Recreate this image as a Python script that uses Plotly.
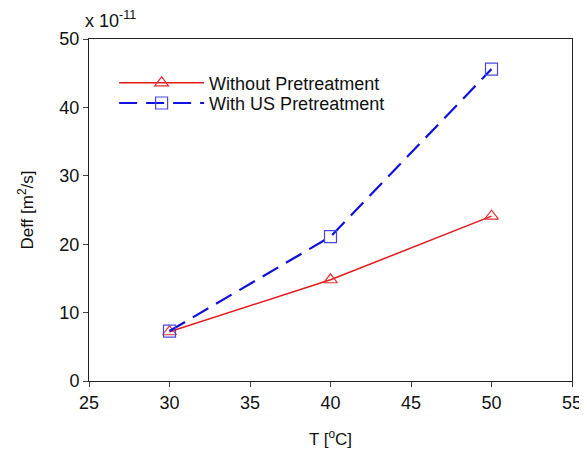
import plotly.graph_objects as go

temps = [30, 40, 50]
without_pre = [7.2, 14.8, 24.1]
with_us = [7.3, 21.1, 45.6]
x_ticks = [25, 30, 35, 40, 45, 50, 55]
y_ticks = [0, 10, 20, 30, 40, 50]

fig = go.Figure()
fig.add_trace(go.Scatter(
    x=temps, y=without_pre, name="Without Pretreatment",
    mode="lines+markers", legend="legend",
    line=dict(color="#e31a1c", width=1.5),
    marker=dict(symbol="triangle-up-open", size=12, color="#e03030", line=dict(width=1.2)),
))
fig.add_trace(go.Scatter(
    x=temps, y=with_us, name="With US Pretreatment",
    mode="lines+markers", legend="legend2",
    line=dict(color="#1010e0", width=2.2, dash="18px,9px"),
    marker=dict(symbol="square-open", size=12, color="#4848e0", line=dict(width=1.2)),
))

leg_common = dict(xanchor="left", yanchor="middle", bgcolor="rgba(0,0,0,0)",
                  font=dict(size=18), itemwidth=85)

fig.update_layout(
    width=579, height=444,
    margin=dict(l=81, r=15, t=31, b=71),
    paper_bgcolor="white", plot_bgcolor="white",
    font=dict(family="Liberation Sans, Arial, sans-serif", size=18, color="#111"),
    showlegend=True,
    legend=dict(x=0.052, y=0.871, **leg_common),
    legend2=dict(x=0.052, y=0.812, **leg_common),
    xaxis=dict(range=[25, 55], tickvals=x_ticks, ticks="outside", ticklen=5,
               showline=True, linecolor="#222", linewidth=1, mirror=True,
               showgrid=False, zeroline=False, automargin=False,
               tickfont=dict(size=18),
               title=dict(text="T [<sup>o</sup>C]", font=dict(size=17), standoff=21)),
    yaxis=dict(range=[0, 50], tickvals=y_ticks, ticks="outside", ticklen=5,
               showline=True, linecolor="#222", linewidth=1, mirror=True,
               showgrid=False, zeroline=False, automargin=False,
               tickfont=dict(size=18),
               title=dict(text="Deff [m<sup>2</sup>/s]", font=dict(size=17), standoff=21)),
    annotations=[dict(text="x 10<sup>-11</sup>", xref="paper", yref="paper",
                      x=0.0, y=1.0, xanchor="left", yanchor="bottom",
                      showarrow=False, font=dict(size=18), yshift=6, xshift=-6)],
)

fig.write_html("out.html")
